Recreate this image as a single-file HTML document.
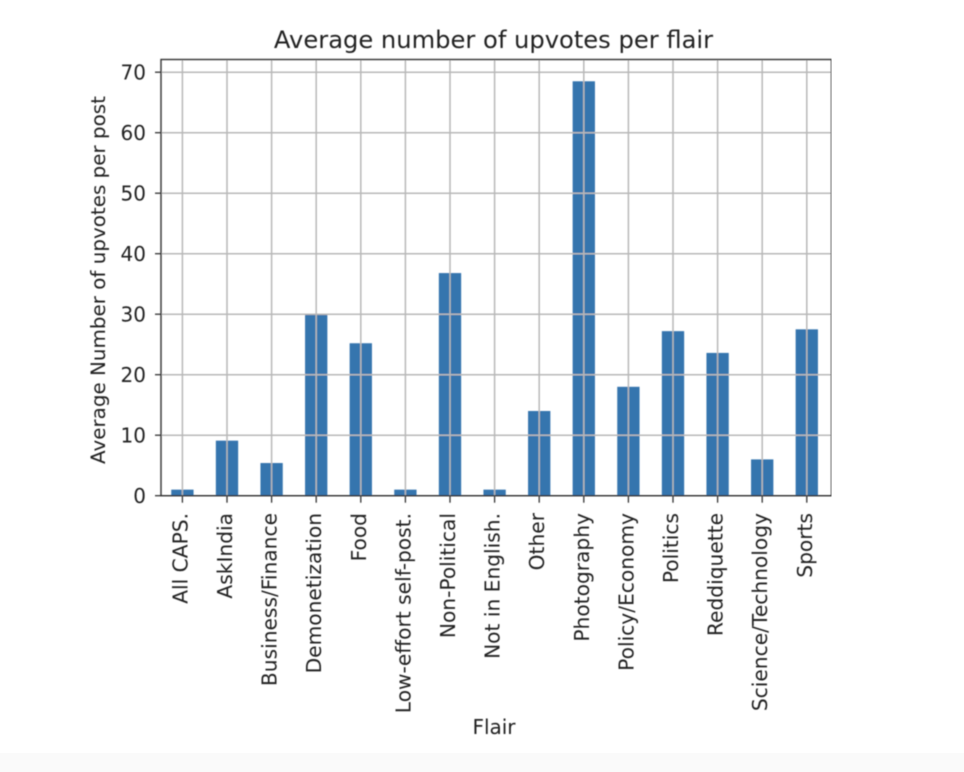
<!DOCTYPE html>
<html>
<head>
<meta charset="utf-8">
<style>
html,body{margin:0;padding:0;background:#fff;}
#wrap{position:relative;width:964px;height:772px;overflow:hidden;background:#fff;}
svg{display:block;}
text{font-family:"DejaVu Sans","Liberation Sans",sans-serif;fill:#222;}
</style>
</head>
<body>
<div id="wrap">
<svg id="chart" width="964" height="772" viewBox="0 0 964 772">
  <defs><filter id="soft" x="0" y="0" width="100%" height="100%"><feGaussianBlur stdDeviation="0.5"/></filter></defs>
  <rect x="0" y="753" width="964" height="19" fill="#fafafa"/>
  <g id="plot" filter="url(#soft)"></g>
</svg>
</div>
<script>
const categories = ["All CAPS.","AskIndia","Business/Finance","Demonetization","Food","Low-effort self-post.","Non-Political","Not in English.","Other","Photography","Policy/Economy","Politics","Reddiquette","Science/Technology","Sports"];
const upvotes = [1, 9.1, 5.4, 30, 25.2, 1, 36.8, 1, 14, 68.5, 18, 27.2, 23.6, 6, 27.5];
const yTicks = [0, 10, 20, 30, 40, 50, 60, 70];
const yMax = 72.1;

const L = 161, R = 831.5, T = 59.5, B = 495.7;
const xFirst = 182.4, xStep = 44.6, barWidth = 22.3;
const NS = "http://www.w3.org/2000/svg";
const plot = document.getElementById("plot");

function xScale(i){ return xFirst + i * xStep; }
function yScale(v){ return B - (v / yMax) * (B - T); }
function mk(tag, attrs, parent){
  const el = document.createElementNS(NS, tag);
  for (const k in attrs) el.setAttribute(k, attrs[k]);
  parent.appendChild(el);
  return el;
}

// bars
upvotes.forEach((v, i) => {
  const bar = mk("rect", {x: xScale(i) - barWidth / 2, y: yScale(v), width: barWidth, height: B - yScale(v), fill: "#3674ae"}, plot);
  
  
});

// vertical grid, ticks and labels
categories.forEach((c, i) => {
  const x = xScale(i);
  const g = mk("line", {x1: x, x2: x, y1: T, y2: B, stroke: "#b8b8b8", "stroke-width": 1.5}, plot);
  
  
  const t = mk("line", {x1: x, x2: x, y1: B, y2: B + 7, stroke: "#333", "stroke-width": 1.3}, plot);
  
  
  const lab = mk("text", {x: 0, y: 0, "font-size": 20.2, "text-anchor": "end", "dominant-baseline": "central", transform: "translate(" + (x - 2) + ",513) rotate(-90)"}, plot);
  lab.textContent = c;
  
  
});

// horizontal grid, ticks and labels
yTicks.forEach(v => {
  const y = yScale(v);
  const g = mk("line", {x1: L, x2: R, y1: y, y2: y, stroke: "#b8b8b8", "stroke-width": 1.5}, plot);
  
  
  const t = mk("line", {x1: L - 6, x2: L, y1: y, y2: y, stroke: "#333", "stroke-width": 1.3}, plot);
  
  
  const lab = mk("text", {x: L - 15, y: y + 7.2, "font-size": 20, "text-anchor": "end"}, plot);
  lab.textContent = v;
  
  
});

// spines
const frame = mk("rect", {x: L, y: T, width: R - L, height: B - T, fill: "none", stroke: "#333", "stroke-width": 1.4}, plot);



// titles
const title = mk("text", {x: 493.5, y: 48, "font-size": 24.2, "text-anchor": "middle"}, plot);
title.textContent = "Average number of upvotes per flair";



const xTitle = mk("text", {x: 494, y: 734, "font-size": 20, "text-anchor": "middle"}, plot);
xTitle.textContent = "Flair";



const yTitle = mk("text", {x: 0, y: 0, "font-size": 19.9, "text-anchor": "middle", transform: "translate(105,280) rotate(-90)"}, plot);
yTitle.textContent = "Average Number of upvotes per post";


</script>
</body>
</html>
